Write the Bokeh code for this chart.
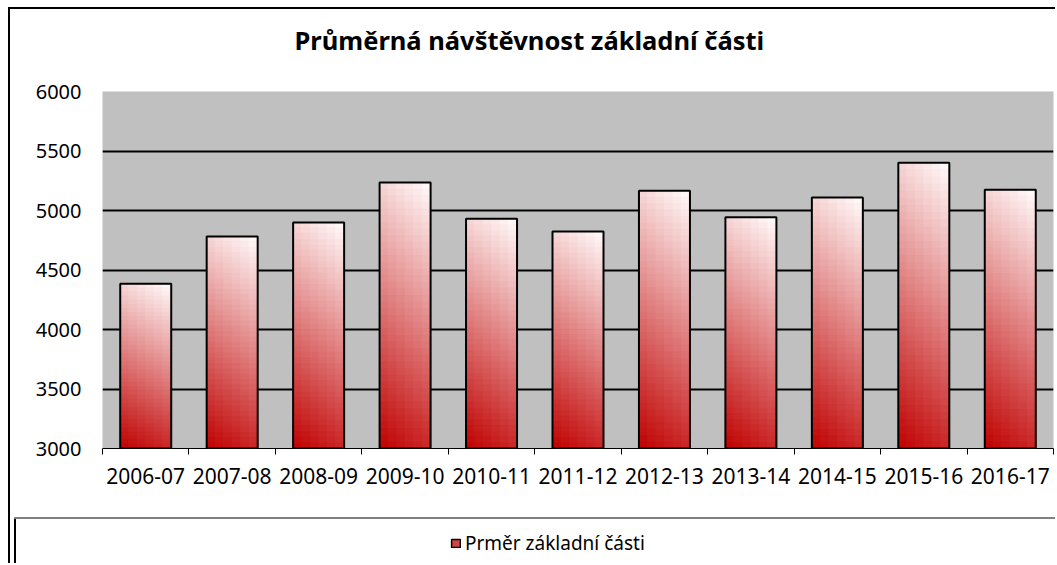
from bokeh.plotting import figure
from bokeh.layouts import column
from bokeh.models import Range1d, FixedTicker, Legend, LegendItem, Title
from bokeh.embed import file_html
from bokeh.resources import INLINE

# ---------------- data ----------------
seasons = ["2006-07", "2007-08", "2008-09", "2009-10", "2010-11", "2011-12",
           "2012-13", "2013-14", "2014-15", "2015-16", "2016-17"]
attendance = [4384, 4781, 4899, 5235, 4930, 4823, 5165, 4944, 5109, 5401, 5174]
y_ticks = [3000, 3500, 4000, 4500, 5000, 5500, 6000]
title_text = "Průměrná návštěvnost základní části"
series_name = "Prměr základní části"

# ---------------- main chart ----------------
W, H1, H2 = 1055, 505, 58
FONT = "Noto Sans"

p = figure(width=W, height=H1, output_backend="svg", toolbar_location=None,
           x_range=Range1d(0, len(seasons)),
           y_range=Range1d(y_ticks[0], y_ticks[-1]),
           min_border_left=102, min_border_top=91,
           min_border_right=2, min_border_bottom=57, title=None)
p.background_fill_color = "#C0C0C0"
p.border_fill_alpha = 0
p.outline_line_color = None
# top and left edges of the chart frame (CSS background)
p.styles = {
    "background-color": "white",
    "background-image": "linear-gradient(#000,#000), linear-gradient(#000,#000)",
    "background-size": "100% 2px, 2px 100%",
    "background-position": "8px 7px, 8px 7px",
    "background-repeat": "no-repeat",
}

centers = [i + 0.5 for i in range(len(seasons))]
bw = 0.59
base = y_ticks[0]

# gradient-filled bars built from slices
NV, NH = 40, 6
L, R, T, B, C = [], [], [], [], []
for c, v in zip(centers, attendance):
    for j in range(NV):
        top = v - (v - base) * j / NV
        bot = v - (v - base) * (j + 1) / NV
        tv = (j + 0.5) / NV
        for k in range(NH):
            th = (k + 0.5) / NH
            t = 0.86 * tv + 0.16 * (1 - th) - 0.02
            t = min(1.0, max(0.0, t))
            r_ = round(255 + (192 - 255) * t)
            g_ = round(255 * (1 - t) * 0.97)
            col = "#%02x%02x%02x" % (r_, g_, g_)
            L.append(c - bw / 2 + bw * k / NH)
            R.append(c - bw / 2 + bw * (k + 1) / NH)
            T.append(top)
            B.append(bot)
            C.append(col)
p.quad(left=L, right=R, top=T, bottom=B, fill_color=C, line_color=C,
       line_width=1)
p.vbar(x=centers, top=attendance, bottom=base, width=bw, fill_alpha=0,
       line_color="black", line_width=2)

# axes
p.xaxis.ticker = FixedTicker(ticks=centers,
                             minor_ticks=list(range(len(seasons) + 1)))
p.xaxis.major_label_overrides = {c: s for c, s in zip(centers, seasons)}
p.xaxis.major_tick_out = 0
p.xaxis.major_tick_in = 0
p.xaxis.minor_tick_out = 6
p.xaxis.minor_tick_in = 0
p.xaxis.minor_tick_line_color = "black"
p.xaxis.axis_line_color = "black"
p.xaxis.axis_line_width = 1
p.xaxis.major_label_standoff = 13
p.xaxis.major_label_text_font = FONT
p.xaxis.major_label_text_font_size = "21px"
p.xaxis.major_label_text_color = "black"

p.yaxis.ticker = FixedTicker(ticks=y_ticks)
p.yaxis.major_tick_out = 0
p.yaxis.major_tick_in = 0
p.yaxis.minor_tick_line_color = None
p.yaxis.axis_line_color = None
p.yaxis.major_label_standoff = 21
p.yaxis.major_label_text_font = FONT
p.yaxis.major_label_text_font_size = "20px"
p.yaxis.major_label_text_color = "black"

p.xgrid.visible = False
p.ygrid.ticker = FixedTicker(ticks=y_ticks)
p.ygrid.grid_line_color = "black"
p.ygrid.grid_line_width = 2

# title (a blank spacer panel sits between the title and the plot area)
p.add_layout(Title(text=" ", standoff=32, text_font_size="1px"), "above")
p.add_layout(Title(text=title_text, align="left", offset=192,
                   vertical_align="bottom", standoff=0,
                   text_font=FONT, text_font_style="bold",
                   text_font_size="25.5px", text_color="black"), "above")

# ---------------- legend strip ----------------
q = figure(width=W, height=H2, output_backend="svg", toolbar_location=None,
           x_range=Range1d(0, 1), y_range=Range1d(0, 1),
           x_axis_type=None, y_axis_type=None,
           min_border_left=0, min_border_right=0,
           min_border_top=0, min_border_bottom=0, title=None)
q.grid.visible = False
q.background_fill_alpha = 0
q.border_fill_alpha = 0
q.outline_line_color = None
# left chart edge + legend box edges (CSS background)
q.styles = {
    "background-color": "white",
    "background-image": ("linear-gradient(#000,#000), linear-gradient(#808080,#808080), "
                         "linear-gradient(#000,#000)"),
    "background-size": "2px 100%, 100% 2px, 2px 100%",
    "background-position": "8px 0px, 14px 12px, 14px 12px",
    "background-repeat": "no-repeat",
}
# swatch renderer for the legend entry (lies outside the visible range)
swatch = q.quad(left=[2], right=[3], top=[3], bottom=[2], fill_color="#D44444",
                line_color="black", line_width=1.5)
legend = Legend(items=[LegendItem(label=series_name, renderers=[swatch])],
                location=(348, 7), orientation="horizontal",
                glyph_width=11, glyph_height=10, label_standoff=4,
                padding=0, margin=0, spacing=0,
                border_line_alpha=0, background_fill_alpha=0,
                label_text_font=FONT, label_text_font_size="19px",
                label_text_color="black")
q.add_layout(legend)

layout = column(p, q, spacing=0)
open("out.html", "w").write(file_html(layout, INLINE, title=title_text))
